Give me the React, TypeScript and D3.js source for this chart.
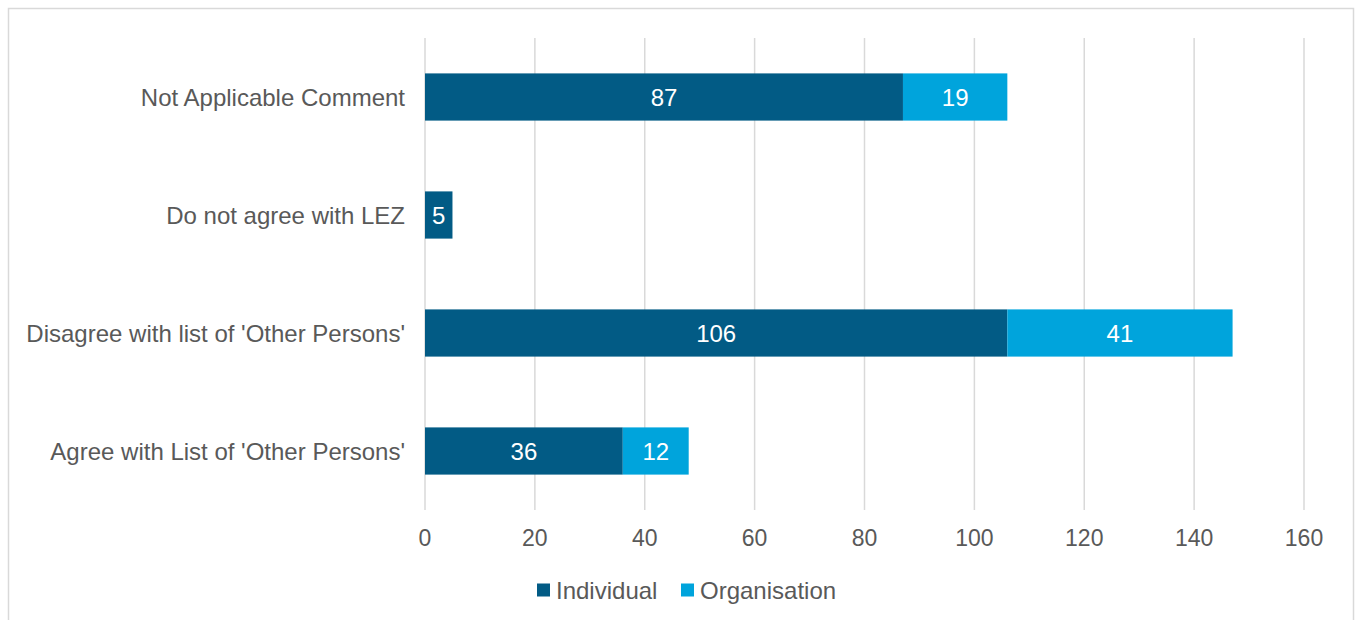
import React, {useEffect, useRef} from 'react';
import * as d3 from 'd3';

// categories, top to bottom
const categories = [
  'Not Applicable Comment',
  'Do not agree with LEZ',
  "Disagree with list of 'Other Persons'",
  "Agree with List of 'Other Persons'",
];
const individual = [87, 5, 106, 36];
const organisation = [19, 0, 41, 12];
const seriesNames = ['Individual', 'Organisation'];
const xTicks = [0, 20, 40, 60, 80, 100, 120, 140, 160];

const colors = ['#025B85', '#00A4DC'];

const App: React.FC = () => {
  const svgRef = useRef<SVGSVGElement>(null);

  useEffect(() => {
    const width = 1357;
    const height = 620;
    const margin = {top: 38, right: 53, bottom: 110, left: 425};
    const font = "'Liberation Sans', Arial, sans-serif";

    const svg = d3.select(svgRef.current);
    svg.selectAll('*').remove();

    // outer chart border (bottom is cut off)
    svg
      .append('path')
      .attr('d', `M8.5,${height + 2} V8.5 H1353.5 V${height + 2}`)
      .attr('fill', 'none')
      .attr('stroke', '#d9d9d9')
      .attr('stroke-width', 1.5);

    const x = d3
      .scaleLinear()
      .domain([0, 160])
      .range([margin.left, width - margin.right]);
    const y = d3
      .scaleBand()
      .domain(categories)
      .range([margin.top, height - margin.bottom])
      .paddingInner(0.6)
      .paddingOuter(0.3);

    // gridlines
    svg
      .append('g')
      .selectAll('line')
      .data(xTicks)
      .enter()
      .append('line')
      .attr('x1', (d) => x(d))
      .attr('x2', (d) => x(d))
      .attr('y1', margin.top)
      .attr('y2', height - margin.bottom)
      .attr('stroke', '#d9d9d9')
      .attr('stroke-width', 1.5);

    // stacked data
    const rows = categories.map((c, i) => ({
      name: c,
      Individual: individual[i],
      Organisation: organisation[i],
    }));
    const stack = d3.stack<any>().keys(seriesNames)(rows);

    stack.forEach((layer, si) => {
      const g = svg.append('g');
      g.selectAll('rect')
        .data(layer.filter((d) => d[1] - d[0] > 0))
        .enter()
        .append('rect')
        .attr('x', (d) => x(d[0]))
        .attr('width', (d) => x(d[1]) - x(d[0]))
        .attr('y', (d) => y(d.data.name))
        .attr('height', y.bandwidth())
        .attr('fill', colors[si]);
      g.selectAll('text')
        .data(layer.filter((d) => d[1] - d[0] > 0))
        .enter()
        .append('text')
        .attr('x', (d) => (x(d[0]) + x(d[1])) / 2)
        .attr('y', (d) => y(d.data.name) + y.bandwidth() / 2)
        .attr('dy', '0.36em')
        .attr('text-anchor', 'middle')
        .attr('fill', '#fff')
        .style('font-family', font)
        .style('font-size', '24px')
        .text((d) => d[1] - d[0]);
    });

    // y labels
    svg
      .append('g')
      .selectAll('text')
      .data(categories)
      .enter()
      .append('text')
      .attr('x', margin.left - 20)
      .attr('y', (d) => y(d) + y.bandwidth() / 2)
      .attr('dy', '0.36em')
      .attr('text-anchor', 'end')
      .attr('fill', '#595959')
      .style('font-family', font)
      .style('font-size', '24px')
      .text((d) => d);

    // x tick labels
    svg
      .append('g')
      .selectAll('text')
      .data(xTicks)
      .enter()
      .append('text')
      .attr('x', (d) => x(d))
      .attr('y', height - margin.bottom + 28)
      .attr('dy', '0.36em')
      .attr('text-anchor', 'middle')
      .attr('fill', '#595959')
      .style('font-family', font)
      .style('font-size', '23px')
      .text((d) => d);

    // legend
    const legendX = [537, 681];
    const legend = svg
      .append('g')
      .selectAll('g')
      .data(seriesNames)
      .enter()
      .append('g')
      .attr('transform', (d, i) => `translate(${legendX[i]},590)`);
    legend
      .append('rect')
      .attr('x', 0)
      .attr('y', -6.5)
      .attr('width', 13)
      .attr('height', 13)
      .attr('fill', (d, i) => colors[i]);
    legend
      .append('text')
      .attr('x', 19)
      .attr('dy', '0.36em')
      .attr('fill', '#595959')
      .style('font-family', font)
      .style('font-size', '24px')
      .text((d) => d);
  }, []);

  return (
    <svg
      ref={svgRef}
      width={1357}
      height={620}
      style={{position: 'absolute', left: 0, top: 0, background: '#fff'}}
    />
  );
};

export default App;
